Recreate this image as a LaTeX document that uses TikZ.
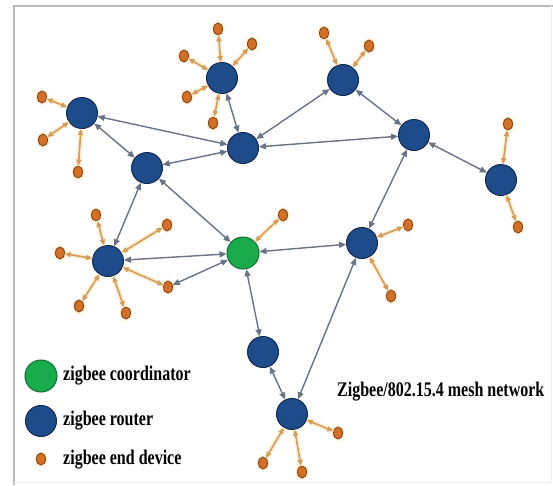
\documentclass[tikz,border=0pt]{standalone}
\usepackage{fontspec}
\setmainfont{Liberation Serif}
\usepackage{tikz}
\usetikzlibrary{arrows.meta,shapes.geometric}

\definecolor{routerblue}{RGB}{30,76,138}
\definecolor{routerrim}{RGB}{18,42,80}
\definecolor{coordgreen}{RGB}{26,172,76}
\definecolor{coordrim}{RGB}{12,110,45}
\definecolor{devorange}{RGB}{212,112,38}
\definecolor{devrim}{RGB}{125,62,22}
\definecolor{linkgray}{RGB}{105,115,132}
\definecolor{leaftan}{RGB}{212,156,86}
\definecolor{halo}{RGB}{253,240,214}

\begin{document}
\begin{tikzpicture}[
  x=1pt,y=-1pt,
  router/.style={circle,draw=routerrim,fill=routerblue,line width=1pt,minimum size=31pt,inner sep=0pt},
  coordinator/.style={circle,draw=coordrim,fill=coordgreen,line width=1pt,minimum size=32pt,inner sep=0pt},
  enddev/.style={ellipse,draw=devrim,fill=devorange,line width=0.8pt,minimum width=9pt,minimum height=12pt,inner sep=0pt,
    preaction={draw=halo,line width=4pt}},
  link/.style={{Triangle[length=7pt,width=6pt]}-{Triangle[length=7pt,width=6pt]},draw=linkgray,line width=1.4pt},
  leaf/.style={{Triangle[length=6pt,width=5pt]}-{Triangle[length=6pt,width=5pt]},draw=leaftan,line width=1.6pt,
    preaction={draw=halo,line width=5pt,-}},
  legendtext/.style={anchor=west,inner sep=0pt,font=\fontsize{16}{16}\selectfont\bfseries}
]
  \fill[white] (0,0) rectangle (553,485);
  \useasboundingbox (0,0) rectangle (553,485);
  \draw[gray!55,line width=2pt] (14,485) -- (14,6) -- (553,6);
  \draw[gray!12,line width=1pt] (551,6) -- (551,482) -- (14,482);

  % routers and coordinator
  \node[router] (r1)  at (82,113)  {};
  \node[router] (r2)  at (147,168) {};
  \node[router] (r3)  at (222,78)  {};
  \node[router] (r4)  at (243,148) {};
  \node[router] (r5)  at (343,80)  {};
  \node[router] (r6)  at (414,135) {};
  \node[router] (r7)  at (501,180) {};
  \node[router] (r8)  at (108,261) {};
  \node[router] (r9)  at (362,243) {};
  \node[router] (r10) at (263,352) {};
  \node[router] (r11) at (292,414) {};
  \node[coordinator] (c) at (243,253) {};

  % end devices
  \node[enddev] (e1)  at (42,97)   {};
  \node[enddev] (e2)  at (43,140)  {};
  \node[enddev] (e3)  at (78,172)  {};
  \node[enddev] (e4)  at (218,29)  {};
  \node[enddev] (e5)  at (252,44)  {};
  \node[enddev] (e6)  at (184,56)  {};
  \node[enddev] (e7)  at (187,97)  {};
  \node[enddev] (e8)  at (213,123) {};
  \node[enddev] (e9)  at (324,33)  {};
  \node[enddev] (e10) at (369,46)  {};
  \node[enddev] (e11) at (508,124) {};
  \node[enddev] (e12) at (518,227) {};
  \node[enddev] (e13) at (96,215)  {};
  \node[enddev] (e14) at (167,225) {};
  \node[enddev] (e15) at (60,253)  {};
  \node[enddev] (e16) at (79,306)  {};
  \node[enddev] (e17) at (126,313) {};
  \node[enddev] (e18) at (168,287) {};
  \node[enddev] (e19) at (283,215) {};
  \node[enddev] (e20) at (408,225) {};
  \node[enddev] (e21) at (391,296) {};
  \node[enddev] (e22) at (338,433) {};
  \node[enddev] (e23) at (302,472) {};
  \node[enddev] (e24) at (263,463) {};

  % mesh links
  \draw[link] (r1)--(r2);
  \draw[link] (r1)--(r4);
  \draw[link] (r2)--(r4);
  \draw[link] (r3)--(r4);
  \draw[link] (r4)--(r5);
  \draw[link] (r4)--(r6);
  \draw[link] (r5)--(r6);
  \draw[link] (r6)--(r7);
  \draw[link] (r6)--(r9);
  \draw[link] (r2)--(r8);
  \draw[link] (r2)--(c);
  \draw[link] (r8)--(c);
  \draw[link] (e18)--(c);
  \draw[link] (r9)--(c);
  \draw[link] (c)--(r10);
  \draw[link] (r10)--(r11);
  \draw[link] (r9)--(r11);

  % end device links
  \draw[leaf] (r1)--(e1);
  \draw[leaf] (r1)--(e2);
  \draw[leaf] (r1)--(e3);
  \draw[leaf] (r3)--(e4);
  \draw[leaf] (r3)--(e5);
  \draw[leaf] (r3)--(e6);
  \draw[leaf] (r3)--(e7);
  \draw[leaf] (r3)--(e8);
  \draw[leaf] (r5)--(e9);
  \draw[leaf] (r5)--(e10);
  \draw[leaf] (r7)--(e11);
  \draw[leaf] (r7)--(e12);
  \draw[leaf] (r8)--(e13);
  \draw[leaf] (r8)--(e14);
  \draw[leaf] (r8)--(e15);
  \draw[leaf] (r8)--(e16);
  \draw[leaf] (r8)--(e17);
  \draw[leaf] (r8)--(e18);
  \draw[leaf] (c)--(e19);
  \draw[leaf] (r9)--(e20);
  \draw[leaf] (r9)--(e21);
  \draw[leaf] (r11)--(e22);
  \draw[leaf] (r11)--(e23);
  \draw[leaf] (r11)--(e24);

  % legend
  \node[coordinator] (lc) at (41,376) {};
  \node[router] (lr) at (41,421) {};
  \node[enddev] (le) at (41,459) {};
  \node[legendtext] (tc) at (63,376) {\scalebox{1}[1.3]{zigbee coordinator}};
  \node[legendtext] (tr) at (63,421) {\scalebox{1}[1.3]{zigbee router}};
  \node[legendtext] (te) at (63,460) {\scalebox{1}[1.3]{zigbee end device}};
  \node[legendtext] (title) at (337,392) {\scalebox{1}[1.3]{Zigbee/802.15.4 mesh network}};
\end{tikzpicture}
\end{document}
